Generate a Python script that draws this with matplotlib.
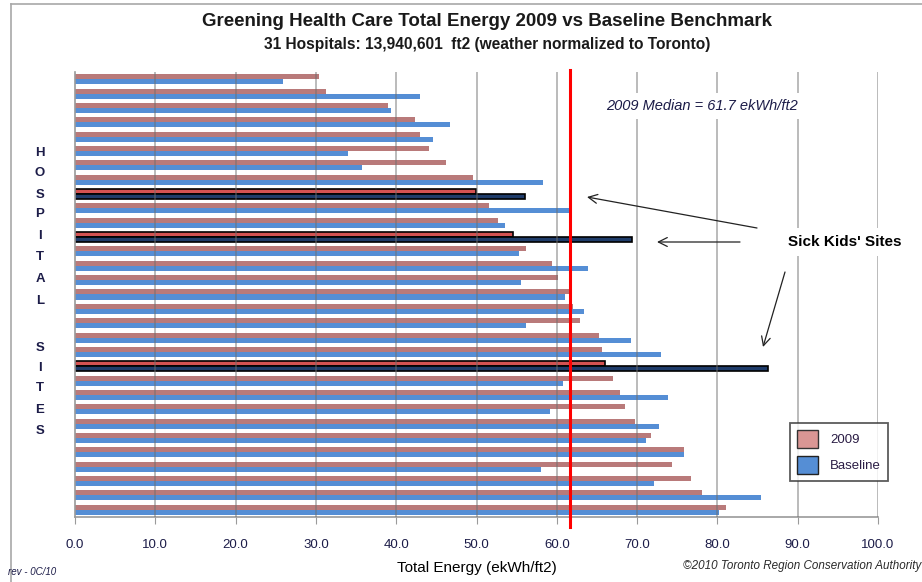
import matplotlib
matplotlib.use('Agg')
import matplotlib.pyplot as plt
from matplotlib.patches import Patch, FancyArrowPatch
from matplotlib.lines import Line2D
import numpy as np

# ---------------- data ----------------
hospitals = [f"Hospital {i + 1}" for i in range(31)]
energy_2009 = [30.4, 31.2, 39.0, 42.4, 43.0, 44.1, 46.2, 49.6, 49.9, 51.6,
               52.7, 54.6, 56.2, 59.4, 60.1, 61.7, 62.0, 62.9, 65.2, 65.6,
               66.0, 67.0, 67.9, 68.5, 69.8, 71.7, 75.8, 74.3, 76.7, 78.1, 81.1]
energy_baseline = [25.9, 43.0, 39.3, 46.7, 44.6, 34.0, 35.8, 58.3, 56.0, 61.7,
                   53.5, 69.4, 55.3, 63.9, 55.6, 61.0, 63.4, 56.2, 69.3, 73.0,
                   86.3, 60.8, 73.8, 59.1, 72.7, 71.1, 75.8, 58.0, 72.1, 85.4, 80.2]
sick_kids_rows = [8, 11, 20]
median_2009 = 61.7
x_ticks = [0, 10, 20, 30, 40, 50, 60, 70, 80, 90, 100]
side_letters = ["H", "O", "S", "P", "I", "T", "A", "L", "S", "I", "T", "E", "S"]
series_names = ["2009", "Baseline"]

# ---------------- style ----------------
W, H = 922, 582
ARIAL = ['Liberation Sans', 'DejaVu Sans']
plt.rcParams['font.family'] = ARIAL

c2009 = '#b97a7a'
cbase = '#558ed5'
c2009_sk = '#d35252'
cbase_sk = '#1f3c6a'
text_col = '#1c1c48'

fig = plt.figure(figsize=(W / 100, H / 100), dpi=100)
ax = fig.add_axes([75 / W, 1 - 517 / H, (878 - 75) / W, (517 - 72) / H])

y = np.arange(len(hospitals))
bh = 0.35
for i in range(len(hospitals)):
    sk = i in sick_kids_rows
    ax.barh(y[i] - bh / 2, energy_2009[i], height=bh,
            color=c2009_sk if sk else c2009,
            edgecolor='black' if sk else 'none', linewidth=1.2 if sk else 0,
            zorder=2)
    ax.barh(y[i] + bh / 2, energy_baseline[i], height=bh,
            color=cbase_sk if sk else cbase,
            edgecolor='black' if sk else 'none', linewidth=1.2 if sk else 0,
            zorder=2)

ax.set_xlim(0, 100)
ax.set_ylim(len(hospitals) - 0.5, -0.5)
ax.set_yticks([])
ax.set_xticks(x_ticks)
ax.set_xticklabels([f"{v:.1f}" for v in x_ticks], color=text_col, fontsize=9.5)
ax.tick_params(axis='x', direction='out', length=5, color='#9a9a9a', pad=11)

for s in ['top', 'right']:
    ax.spines[s].set_visible(False)
for s in ['left', 'bottom']:
    ax.spines[s].set_color('#9a9a9a')
    ax.spines[s].set_linewidth(1.2)

for v in x_ticks[1:]:
    ax.axvline(v, color='#6e6e6e', alpha=0.6, lw=1.1, zorder=3)

# median line
ax.axvline(median_2009, ymin=-0.023, ymax=1.005, color='red', lw=2.2,
           zorder=6, clip_on=False)

ax.set_xlabel("Total Energy (ekWh/ft2)", fontsize=11, color='black', labelpad=7)

# ---------------- texts ----------------
fig.text(487 / W, 1 - 21 / H,
         "Greening Health Care Total Energy 2009 vs Baseline Benchmark",
         ha='center', va='center', fontsize=13.5, fontweight='bold', color='#1a1a1a')
fig.text(487 / W, 1 - 45 / H,
         "31 Hospitals: 13,940,601  ft2 (weather normalized to Toronto)",
         ha='center', va='center', fontsize=11.2, fontweight='bold', color='#1a1a1a')

fig.text(702 / W, 1 - 106 / H, f"2009 Median = {median_2009} ekWh/ft2",
         ha='center', va='center', fontsize=10.5, style='italic', color=text_col,
         bbox=dict(facecolor='white', edgecolor='none', pad=4), zorder=7)

fig.text(845 / W, 1 - 242 / H, "Sick Kids' Sites", ha='center', va='center',
         fontsize=11, fontweight='bold', color='black',
         bbox=dict(facecolor='white', edgecolor='none', pad=5), zorder=7)

letter_y = [153, 173, 195, 214, 236, 257, 279, 301, 348, 368, 388, 410, 431]
for ch, ly in zip(side_letters, letter_y):
    fig.text(40 / W, 1 - ly / H, ch, ha='center', va='center', fontsize=9.5,
             fontweight='bold', color=text_col)

fig.text(8 / W, 1 - 572 / H, "rev - 0C/10", ha='left', va='center',
         fontsize=7, style='italic', color=text_col)
fig.text(683 / W, 1 - 566 / H, "\u00a92010 Toronto Region Conservation Authority",
         ha='left', va='center', fontsize=8.4, style='italic',
         color='#2a2a2a')

# arrows (figure pixels, origin bottom-left)
arrow_props = dict(arrowstyle='->', color='#222222', lw=0.9,
                   mutation_scale=16, shrinkA=0, shrinkB=0)
for (hx, hy), (tx, ty) in [((587, 197), (757, 228)),
                           ((657, 242), (740, 242)),
                           ((763, 347), (785, 272))]:
    fig.add_artist(FancyArrowPatch((tx, H - ty), (hx, H - hy), transform=None,
                                   zorder=8, **arrow_props))

# legend
handles = [Patch(facecolor='#d99694', edgecolor='#333333', lw=1.0),
           Patch(facecolor=cbase, edgecolor='#222222', lw=1.0)]
leg = fig.legend(handles, series_names, loc='upper left',
                 bbox_to_anchor=(790 / W, 1 - 423 / H),
                 frameon=True, fancybox=False, edgecolor='#333333',
                 prop=dict(size=9.5), handlelength=1.6,
                 handleheight=1.7, labelspacing=0.6, borderpad=0.55,
                 handletextpad=0.9, borderaxespad=0)
leg.get_frame().set_linewidth(1.3)
for t in leg.get_texts():
    t.set_color('#2b1d45')

# outer chart border
fig.add_artist(Line2D([11 / W, 11 / W], [0, 1 - 4 / H], color='#a8a8a8', lw=1.2))
fig.add_artist(Line2D([11 / W, 1], [1 - 4 / H, 1 - 4 / H], color='#a8a8a8', lw=1.2))

fig.savefig('out.png', dpi=100)
